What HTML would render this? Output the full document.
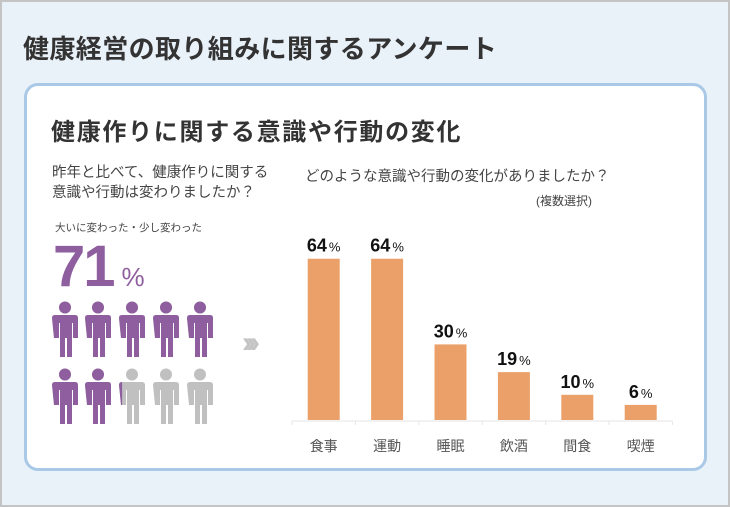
<!DOCTYPE html>
<html><head><meta charset="utf-8"><style>
body{margin:0;width:730px;height:507px;overflow:hidden;font-family:"Liberation Sans","Noto Sans CJK JP",sans-serif;}
.abs{position:absolute;white-space:nowrap;}
</style></head><body>
<div style="position:absolute;left:0;top:0;width:726px;height:503px;border:2px solid #c4c4c4;background:#e9f1f9;"></div>
<div class="abs" style="left:23px;top:29px;font-size:26px;font-weight:bold;color:#333;letter-spacing:0.4px;">健康経営の取り組みに関するアンケート</div>
<div style="position:absolute;left:24px;top:83px;width:677px;height:382px;border:3px solid #a9c9e7;border-radius:14px;background:#fff;"></div>
<div class="abs" style="left:51px;top:112px;font-size:24px;font-weight:bold;color:#333;letter-spacing:1.7px;">健康作りに関する意識や行動の変化</div>
<div class="abs" style="left:52px;top:163px;font-size:14.5px;line-height:20px;color:#444;">昨年と比べて、健康作りに関する<br>意識や行動は変わりましたか？</div>
<div class="abs" style="left:55px;top:220px;font-size:10.5px;color:#444;">大いに変わった・少し変わった</div>
<div class="abs" style="left:53px;top:233px;font-size:58px;font-weight:bold;color:#8e5e9e;letter-spacing:-2px;">71<span style="font-size:26px;font-weight:normal;margin-left:8px;">%</span></div>
<svg class="abs" style="left:0;top:0" width="730" height="507" id="ppl"></svg>
<div class="abs" style="left:242px;top:326px;font-size:30px;font-weight:bold;color:#c4c4c4;letter-spacing:-6px;">›››</div>
<div class="abs" style="left:305px;top:165px;font-size:14.5px;color:#444;">どのような意識や行動の変化がありましたか？</div>
<div class="abs" style="left:536px;top:192px;font-size:12px;color:#444;">(複数選択)</div>
<svg class="abs" style="left:0;top:0" width="730" height="507" id="chart"></svg>
<script>
const categories=["食事","運動","睡眠","飲酒","間食","喫煙"];
const values=[64,64,30,19,10,6];
const peopleShare=[71];
const NS="http://www.w3.org/2000/svg";
function mk(p,t,a){const e=document.createElementNS(NS,t);for(const k in a)e.setAttribute(k,a[k]);p.appendChild(e);return e;}
const c=document.getElementById('chart');
const x0=292,step=63.4,base=420,scale=2.52;
function xc(i){return x0+step*(i+0.5);}
function y(v){return base-v*scale;}
const ax=mk(c,'line',{x1:x0,x2:x0+step*6,y1:base+1,y2:base+1,stroke:'#e6e6e6','stroke-width':1});


for(let i=0;i<=6;i++){const t=mk(c,'line',{x1:x0+step*i,x2:x0+step*i,y1:base+1,y2:base+5,stroke:'#e6e6e6'});

}
values.forEach((v,i)=>{
 const r=mk(c,'rect',{x:xc(i)-16,y:y(v),width:32,height:v*scale,fill:'#eba06a'});
 
 
 const t=mk(c,'text',{x:xc(i),y:y(v)-7,'text-anchor':'middle','font-size':18,'font-weight':'bold',fill:'#111'});
 
 
 t.textContent=v;
 const s=mk(t,'tspan',{'font-size':13,'font-weight':'normal',dx:2});s.textContent='%';
 const l=mk(c,'text',{x:xc(i),y:451,'text-anchor':'middle','font-size':14,fill:'#555'});
 
 
 l.textContent=categories[i];
});
const p=document.getElementById('ppl');
const defs=mk(p,'defs',{});
function person(g,ox,oy,fill){
 mk(g,'circle',{cx:ox+13,cy:oy+6.5,r:6,fill});
 mk(g,'path',{d:`M${ox} ${oy+17} q0 -3 3 -3 h20 q3 0 3 3 v20 h-5 v-15 h-1 v34 h-5 v-19 h-2 v19 h-5 v-34 h-1 v15 h-5z`,fill});
}
const xs=[52,85,119,153,187],ys=[301,368];
let k=0;const n=peopleShare[0]/10;
ys.forEach(yy=>xs.forEach(xx=>{
 const g=mk(p,'g',{});
 
 
 const frac=Math.max(0,Math.min(1,n-k));
 person(g,xx,yy,'#c0c0c0');
 if(frac>0){const id='cp'+k;const cp=mk(defs,'clipPath',{id});mk(cp,'rect',{x:xx,y:yy,width:26*(frac<1?Math.max(frac,0.12):1),height:60});
  const g2=mk(g,'g',{'clip-path':`url(#${id})`});person(g2,xx,yy,'#8e5e9e');}
 k++;
}));
</script>
</body></html>
